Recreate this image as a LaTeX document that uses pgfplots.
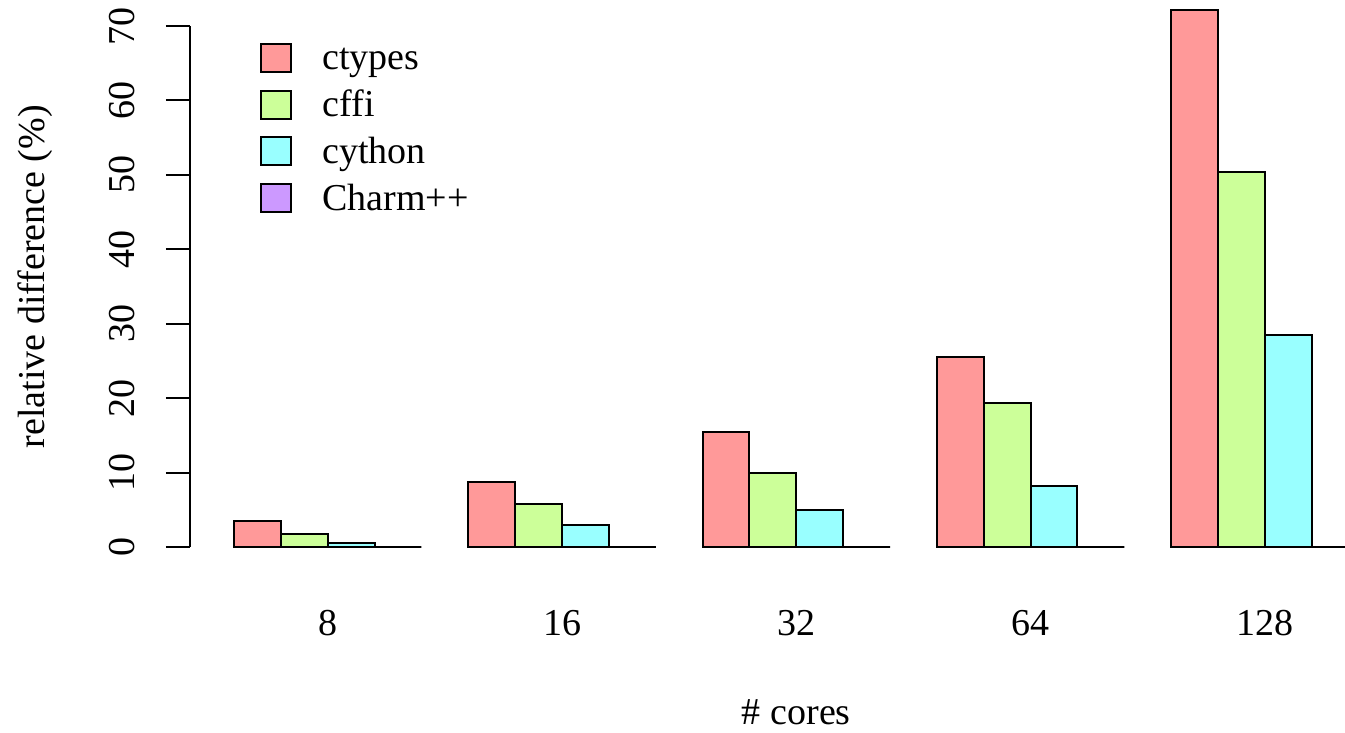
\documentclass[border=0pt]{standalone}
\usepackage{pgfplots}
\pgfplotsset{compat=1.18}
\usepackage{fontspec}
\setmainfont{Liberation Serif}
\definecolor{cA}{RGB}{255,153,153}
\definecolor{cB}{RGB}{204,255,153}
\definecolor{cC}{RGB}{153,255,255}
\definecolor{cD}{RGB}{204,153,255}
\pgfplotsset{mybar/.style={ybar, bar width=1, bar shift=0pt, draw=black, line width=0.8pt,
  legend image code/.code={\draw[##1, line width=0.8pt] (0pt,-0.8pt) rectangle (12pt,10.4pt);}}}
\begin{document}
\begin{tikzpicture}[font=\fontsize{15.2}{18}\selectfont]
\useasboundingbox (-76pt,-65.36pt) rectangle (462pt,227.44pt);
\begin{axis}[
 at={(0,0)}, anchor=south west,
 scale only axis, width=462pt, height=227.44pt,
 xmin=-0.94, xmax=23.71, ymin=-2.9, ymax=73.5,
 clip=false,
 axis lines*=left, axis line style={draw=none},
 xtick={2,7,12,17,22}, xticklabels={8,16,32,64,128},
 xtick style={draw=none},
 xticklabel style={anchor=north, inner sep=0pt, yshift=-7pt},
 ytick={0,10,...,70},
 ytick style={black, line width=0.8pt},
 tick align=outside, major tick length=9.6pt,
 yticklabel style={rotate=90, anchor=south, inner sep=0pt, yshift=12.4pt},
 /pgf/number format/assume math mode=true,
 legend style={draw=none, fill=none, at={(axis cs:0.555,67.75)}, anchor=north west,
   inner sep=0pt, outer sep=0pt, row sep=4.9pt, column sep=12.2pt,
   nodes={inner sep=0pt, text height=10.5pt, text depth=3pt, anchor=base west}},
]
\addplot[mybar, fill=cA] coordinates {(0.5,3.5) (5.5,8.7) (10.5,15.5) (15.5,25.5) (20.5,72.1)};
\addlegendentry{ctypes}
\addplot[mybar, fill=cB] coordinates {(1.5,1.8) (6.5,5.8) (11.5,9.9) (16.5,19.4) (21.5,50.4)};
\addlegendentry{cffi}
\addplot[mybar, fill=cC] coordinates {(2.5,0.5) (7.5,2.95) (12.5,4.97) (17.5,8.15) (22.5,28.5)};
\addlegendentry{cython}
\addplot[mybar, fill=cD] coordinates {(3.5,0) (8.5,0) (13.5,0) (18.5,0) (23.5,0)};
\addlegendentry{Charm++}
\draw[line width=0.8pt] (axis cs:-0.94,0) -- (axis cs:-0.94,70);
\node[anchor=center, inner sep=0pt, yshift=-57.6pt] at (axis cs:12,-2.9) {\# cores};
\node[rotate=90, anchor=center, yshift=62pt] at (axis cs:-0.94,36.3) {relative difference (\%)};
\end{axis}
\end{tikzpicture}
\end{document}
